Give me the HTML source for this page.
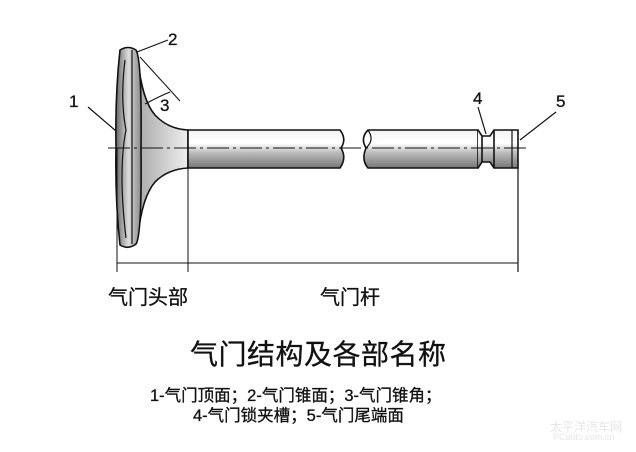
<!DOCTYPE html>
<html><head><meta charset="utf-8"><style>
html,body{margin:0;padding:0;background:#fff;}
body{width:636px;height:452px;overflow:hidden;position:relative;font-family:"Liberation Sans","Noto Sans CJK SC",sans-serif;}
.t{position:absolute;white-space:nowrap;color:#111;-webkit-text-stroke:0.3px #111;}
</style></head><body>
<svg width="636" height="452" style="position:absolute;left:0;top:0">
<defs>
<linearGradient id="g" x1="0" y1="0" x2="0" y2="1">
<stop offset="0" stop-color="#f4f4f4"/><stop offset="0.35" stop-color="#fff"/><stop offset="0.6" stop-color="#bbb"/><stop offset="1" stop-color="#777"/>
</linearGradient>
<linearGradient id="h" x1="0" y1="0" x2="1" y2="0">
<stop offset="0" stop-color="#aaa"/><stop offset="1" stop-color="#eee"/>
</linearGradient>
<linearGradient id="d" x1="0" y1="0" x2="1" y2="0">
<stop offset="0" stop-color="#666"/><stop offset="0.5" stop-color="#ddd"/><stop offset="1" stop-color="#888"/>
</linearGradient>
</defs>
<g stroke="#111" stroke-width="1.6">
<path d="M138 60 Q142 100 155 115 Q168 129 188 130 L188 168 Q168 169 155 182 Q142 197 138 236 Z" fill="url(#h)"/>
<path d="M120 50 Q128 45 136 50 Q142 60 141 148 Q142 235 136 244 Q128 250 120 245 Q115 200 116 148 Q115 95 120 50 Z" fill="url(#d)"/>
<path d="M125 60 Q120 100 126 130 Q118 170 126 238" fill="none" stroke-width="1.2"/>
<line x1="132" y1="50" x2="132" y2="244" stroke-width="1.2"/>
<path d="M188 130 L340 130 Q347 139 341 148 Q347 158 340 168 L188 168 Z" fill="url(#g)"/>
<path d="M368 130 L478 130 L478 168 L368 168 Q361 160 366 148 Q360 138 368 130 Z" fill="url(#g)"/>
<path d="M368 130 Q375 140 366 148" fill="none" stroke-width="1.2"/>
<path d="M478 130 L482 136 L482 162 L478 168 M482 136 L490 136 L494 130 L518 130 L518 168 L494 168 L490 162 L482 162" fill="url(#g)"/>
<line x1="494" y1="130" x2="494" y2="168"/>
<line x1="512" y1="130" x2="512" y2="168" stroke-width="1.2"/>
<line x1="108" y1="148" x2="530" y2="148" stroke-width="1" stroke-dasharray="22,4,3,4"/>
<line x1="117" y1="148" x2="117" y2="272" stroke-width="1"/>
<line x1="188" y1="130" x2="188" y2="272" stroke-width="1"/>
<line x1="518" y1="168" x2="518" y2="272" stroke-width="1.2"/>
<line x1="117" y1="263" x2="518" y2="263" stroke-width="1"/>
<line x1="88" y1="107" x2="116" y2="131" stroke-width="1.2"/>
<line x1="137" y1="52" x2="168" y2="40" stroke-width="1.2"/>
<line x1="140" y1="57" x2="180" y2="101" stroke-width="1"/>
<path d="M145 104 Q160 96 170 92" fill="none" stroke-width="1.2"/>
<line x1="486" y1="134" x2="478" y2="107" stroke-width="1.2"/>
<line x1="520" y1="140" x2="556" y2="112" stroke-width="1.2"/>
</g>
</svg>
<div class="t" style="left:69px;top:92px;font-size:17px">1</div>
<div class="t" style="left:168px;top:30px;font-size:17px">2</div>
<div class="t" style="left:160px;top:96px;font-size:17px">3</div>
<div class="t" style="left:473px;top:89px;font-size:17px">4</div>
<div class="t" style="left:556px;top:92px;font-size:17px">5</div>
<div class="t" style="left:108px;top:281px;font-size:20px">气门头部</div>
<div class="t" style="left:320px;top:281px;font-size:20px">气门杆</div>
<div class="t" style="left:190px;top:333px;font-size:28px;letter-spacing:0.5px">气门结构及各部名称</div>
<div class="t" style="left:150px;top:382px;font-size:16.5px">1-气门顶面；2-气门锥面；3-气门锥角；</div>
<div class="t" style="left:193px;top:402px;font-size:16.5px">4-气门锁夹槽；5-气门尾端面</div>
<div class="t" style="left:550px;top:418px;font-size:12px;color:#e6e6e6;-webkit-text-stroke:0">太平洋汽车网</div>
<div class="t" style="left:553px;top:432px;font-size:9px;color:#e6e6e6;-webkit-text-stroke:0">PCauto.com.cn</div>
</body></html>
